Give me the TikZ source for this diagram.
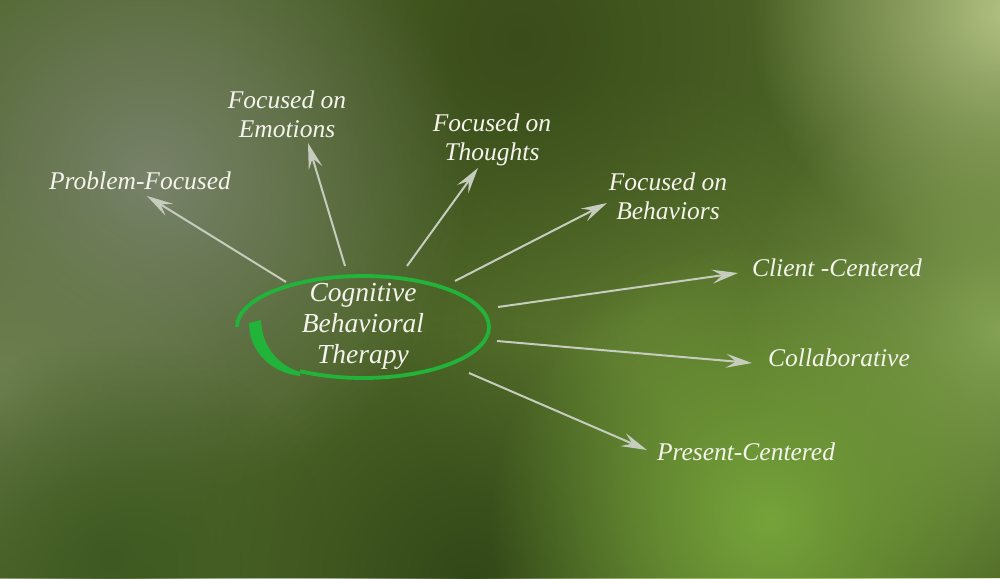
\documentclass[tikz,border=0pt]{standalone}
\usepackage{fontspec}
\setmainfont{Liberation Serif}
\usetikzlibrary{arrows.meta,fadings}
\tikzfading[name=blobfade, inner color=transparent!0, outer color=transparent!100]
\definecolor{bgbase}{HTML}{4B6326}
\definecolor{txt}{HTML}{F4F4EC}
\definecolor{arr}{HTML}{C6CCBE}
\definecolor{ring}{HTML}{22B43A}
\definecolor{bA}{HTML}{5E7A30}
\definecolor{bB}{HTML}{3A4C1A}
\definecolor{bC}{HTML}{324818}
\definecolor{bD}{HTML}{78826A}
\definecolor{bE}{HTML}{6E8050}
\definecolor{bF}{HTML}{3E5A22}
\definecolor{bG}{HTML}{B2C282}
\definecolor{bH}{HTML}{84A252}
\definecolor{bI}{HTML}{76A43A}
\begin{document}
\begin{tikzpicture}[x=1pt,y=-1pt,
  blob/.style={fill=#1,path fading=blobfade},
  lbl/.style={text=txt,font=\itshape\fontsize{25.5}{29}\selectfont,align=center,inner sep=0pt},
  clbl/.style={text=txt,font=\itshape\fontsize{27.5}{31}\selectfont,align=center,inner sep=0pt},
  conn/.style={draw=arr,line width=2pt,-{Stealth[length=26pt,width=14pt,inset=10pt]}}]
% background
\fill[bgbase] (0,0) rectangle (1000,578);
\useasboundingbox (0,0) rectangle (1000,578);
\begin{scope}
\clip (0,0) rectangle (1000,578);
\fill[blob=bA] (650,330) circle[radius=260];
\fill[blob=bB] (520,40) circle[radius=300];
\fill[blob=bC] (470,580) circle[radius=260];
\fill[blob=bD] (150,180) circle[radius=320];
\fill[blob=bE] (0,390) circle[radius=240];
\fill[blob=bF] (110,560) circle[radius=220];
\fill[blob=bG] (1010,10) circle[radius=260];
\fill[blob=bH] (1000,330) circle[radius=260];
\fill[blob=bI] (770,520) circle[radius=280];
\end{scope}
% centre spiral ellipse
\draw[ring,line width=3.8pt] (237,327) arc[start angle=180,end angle=480,x radius=126,y radius=51];
\fill[ring] (300,376) .. controls (272,373) and (249,352) .. (249,323)
  -- (261,320) .. controls (262,347) and (278,365) .. (300,372) -- cycle;
\node[clbl] (cbt) at (363,326) {Cognitive\\Behavioral\\Therapy};
% labels
\node[lbl] (pf) at (140,181) {Problem-Focused};
\node[lbl] (fe) at (287,114) {Focused on\\Emotions};
\node[lbl] (ft) at (492,140) {Focused on\\Thoughts};
\node[lbl] (fb) at (668,196) {Focused on\\Behaviors};
\node[lbl] (cc) at (837,268) {Client -Centered};
\node[lbl] (co) at (839,358) {Collaborative};
\node[lbl] (pc) at (746,452) {Present-Centered};
% connector ends
\coordinate (s1) at (286,282); \coordinate (t1) at (147,196);
\coordinate (s2) at (345,266); \coordinate (t2) at (308,143);
\coordinate (s3) at (407,266); \coordinate (t3) at (478,168);
\coordinate (s4) at (455,281); \coordinate (t4) at (607,203);
\coordinate (s5) at (498,307); \coordinate (t5) at (738,273);
\coordinate (s6) at (497,341); \coordinate (t6) at (752,363);
\coordinate (s7) at (469,373); \coordinate (t7) at (647,450);
\draw[conn] (s1) -- (t1);
\draw[conn] (s2) -- (t2);
\draw[conn] (s3) -- (t3);
\draw[conn] (s4) -- (t4);
\draw[conn] (s5) -- (t5);
\draw[conn] (s6) -- (t6);
\draw[conn] (s7) -- (t7);
\end{tikzpicture}
\end{document}
